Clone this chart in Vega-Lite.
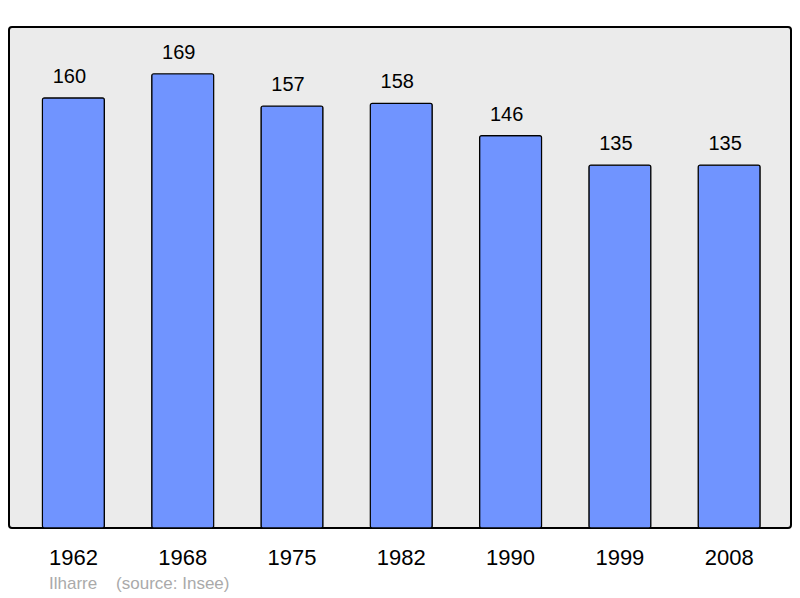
{
  "$schema": "https://vega.github.io/schema/vega-lite/v6.json",
  "width": 782,
  "height": 501,
  "padding": {"left": 9, "top": 27, "right": 9, "bottom": 0},
  "background": "white",
  "config": {
    "font": "Liberation Sans",
    "view": {"stroke": "black", "strokeWidth": 2, "fill": "#ebebeb", "cornerRadius": 3}
  },
  "title": {
    "text": "Ilharre\u00a0\u00a0\u00a0\u00a0(source: Insee)",
    "orient": "bottom",
    "anchor": "start",
    "frame": "group",
    "dx": 40,
    "offset": 8,
    "fontSize": 17,
    "fontWeight": "normal",
    "color": "#aaaaaa",
    "font": "Liberation Sans"
  },
  "data": {
    "values": [
      {"year": "1962", "pop": 160},
      {"year": "1968", "pop": 169},
      {"year": "1975", "pop": 157},
      {"year": "1982", "pop": 158},
      {"year": "1990", "pop": 146},
      {"year": "1999", "pop": 135},
      {"year": "2008", "pop": 135}
    ]
  },
  "encoding": {
    "x": {
      "field": "year",
      "type": "nominal",
      "sort": null,
      "scale": {"paddingInner": 0.433, "paddingOuter": 0.294, "align": 0.52},
      "axis": {
        "title": null,
        "labelAngle": 0,
        "ticks": false,
        "domain": false,
        "grid": false,
        "labelFontSize": 22,
        "labelColor": "black",
        "labelBaseline": "alphabetic",
        "labelPadding": 36
      }
    },
    "y": {
      "field": "pop",
      "type": "quantitative",
      "scale": {"domain": [0, 186.4], "nice": false},
      "axis": null
    }
  },
  "layer": [
    {
      "mark": {"type": "bar", "fill": "#7094ff", "stroke": "black", "strokeWidth": 1.2, "cornerRadius": 2}
    },
    {
      "mark": {"type": "text", "baseline": "alphabetic", "dy": -15, "dx": -4, "fontSize": 20, "color": "black"},
      "encoding": {"text": {"field": "pop", "type": "quantitative"}}
    }
  ]
}
